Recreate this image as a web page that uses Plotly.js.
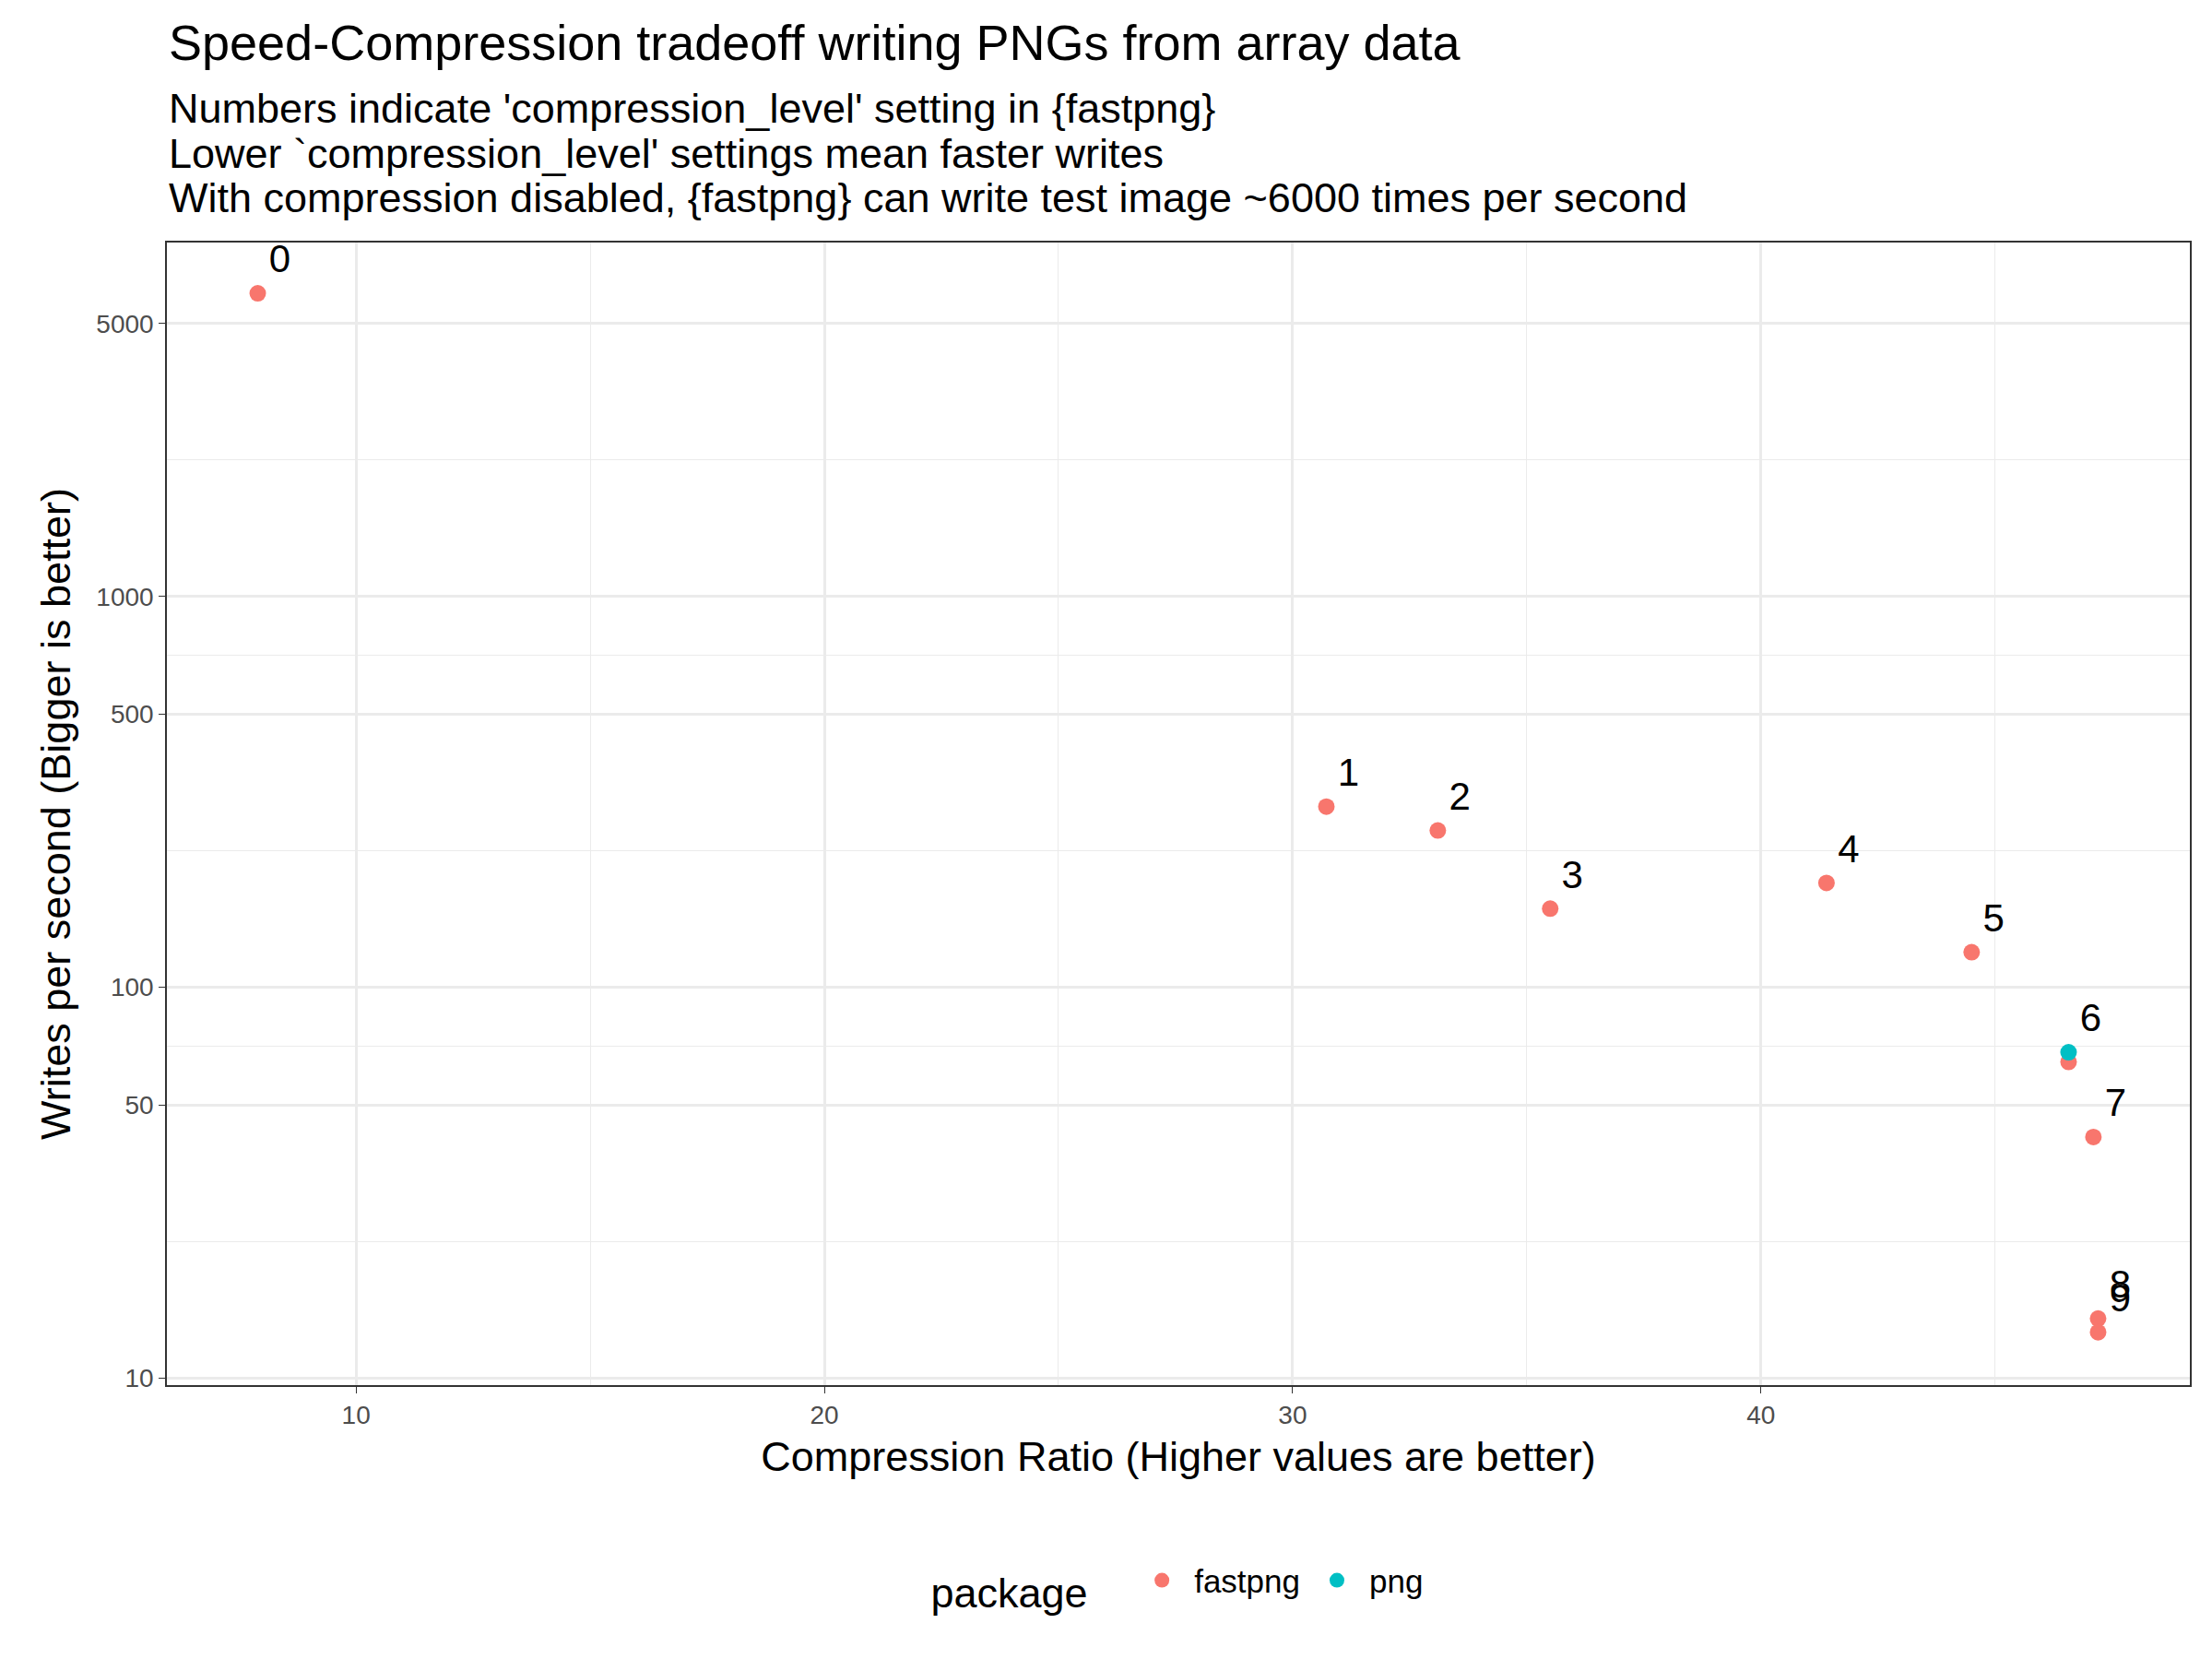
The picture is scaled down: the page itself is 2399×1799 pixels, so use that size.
<html><head><script src="https://cdn.plot.ly/plotly-3.0.1.min.js"></script></head>
<body style="margin:0"><div id="c" style="width:2399px;height:1799px"></div>
<script>
const fastX = [7.9, 30.72, 33.1, 35.5, 41.4, 44.5, 46.57, 47.1, 47.2, 47.2];
const fastY = [5970, 290, 252, 159, 185, 123, 64.4, 41.4, 14.2, 13.1];
const levels = ["0", "1", "2", "3", "4", "5", "", "7", "8", "9"];
const pngX = [46.57];
const pngY = [68.2];
const pngLabel = ["6"];
const FONT = "Liberation Sans, Arial, sans-serif";

const traces = [
  { x: fastX, y: fastY, text: levels, name: "fastpng", mode: "markers+text",
    textposition: "top right", textfont: { size: 42, color: "#000" },
    marker: { color: "#F8766D", size: 18 } },
  { x: pngX, y: pngY, text: pngLabel, name: "png", mode: "markers+text",
    textposition: "top right", textfont: { size: 42, color: "#000" },
    marker: { color: "#00BFC4", size: 18 } },
];

const subs = ["Numbers indicate 'compression_level' setting in {fastpng}",
  "Lower `compression_level' settings mean faster writes",
  "With compression disabled, {fastpng} can write test image ~6000 times per second"];

const layout = {
  width: 2399, height: 1799,
  paper_bgcolor: "#fff", plot_bgcolor: "#fff",
  font: { family: FONT, color: "#000" },
  margin: { l: 181, r: 24, t: 263, b: 297 },
  showlegend: true,
  legend: { orientation: "h", x: 0.5, xanchor: "center", y: -0.175, yanchor: "middle",
    title: { text: "package   ", font: { size: 45 } }, font: { size: 35 }, itemwidth: 60 },
  xaxis: { range: [5.96, 49.16], tickvals: [10, 20, 30, 40], gridcolor: "#EBEBEB", gridwidth: 2.5,
    minor: { tickvals: [15, 25, 35, 45], gridcolor: "#EBEBEB", gridwidth: 1.2, showgrid: true },
    showline: true, mirror: true, linecolor: "#333", linewidth: 1.5, zeroline: false,
    ticks: "outside", ticklen: 7, tickcolor: "#333", tickfont: { size: 28, color: "#4d4d4d" },
    title: { text: "Compression Ratio (Higher values are better)", font: { size: 45 }, standoff: 14 } },
  yaxis: { type: "log", range: [0.982, 3.906], tickvals: [10, 50, 100, 500, 1000, 5000],
    gridcolor: "#EBEBEB", gridwidth: 2.5,
    minor: { tickvals: [22.36, 70.71, 223.6, 707.1, 2236], gridcolor: "#EBEBEB", gridwidth: 1.2, showgrid: true },
    showline: true, mirror: true, linecolor: "#333", linewidth: 1.5, zeroline: false,
    ticks: "outside", ticklen: 7, tickcolor: "#333", tickfont: { size: 28, color: "#4d4d4d" },
    title: { text: "Writes per second (Bigger is better)", font: { size: 45 }, standoff: 14 } },
  annotations: [
    { text: "Speed-Compression tradeoff writing PNGs from array data", xref: "paper", yref: "paper",
      x: 0, y: 1 + (263 - 46) / 1239, xanchor: "left", yanchor: "middle", showarrow: false, font: { size: 54 } },
  ].concat(subs.map((s, i) => ({ text: s, xref: "paper", yref: "paper", x: 0,
    y: 1 + (263 - [118, 166, 214][i]) / 1239, xanchor: "left", yanchor: "middle", showarrow: false,
    font: { size: 45 } }))),
};
Plotly.newPlot("c", traces, layout, { displayModeBar: false });
</script></body></html>
